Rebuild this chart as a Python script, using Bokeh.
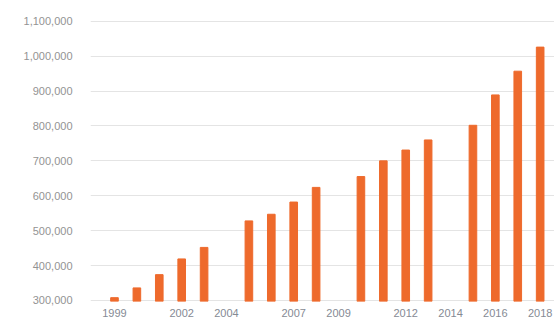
from bokeh.plotting import figure
from bokeh.models import FixedTicker, NumeralTickFormatter, Range1d
from bokeh.embed import file_html
from bokeh.resources import INLINE

# Annual totals (years without a reported figure are left out)
years = [1999, 2000, 2001, 2002, 2003,
         2005, 2006, 2007, 2008,
         2010, 2011, 2012, 2013,
         2015, 2016, 2017, 2018]
totals = [308000, 336000, 374000, 419000, 452000,
          528000, 547000, 582000, 624000,
          655000, 700000, 731000, 760000,
          802000, 889000, 957000, 1026000]

year_ticks = [1999, 2002, 2004, 2007, 2009, 2012, 2014, 2016, 2018]
value_ticks = [300000, 400000, 500000, 600000, 700000, 800000, 900000, 1000000, 1100000]

BAR = "#ee6a2c"
LABEL = "#939393"
FONT = "Liberation Sans"

p = figure(width=554, height=322, output_backend="svg", toolbar_location=None,
           x_range=Range1d(1997.93, 2018.64), y_range=Range1d(297000, 1151000),
           min_border_left=90, min_border_right=0, min_border_top=3, min_border_bottom=21)

p.vbar(x=years, top=totals, bottom=0, width=0.34, color=BAR)

p.outline_line_color = None
p.background_fill_color = "white"
p.border_fill_color = "white"

p.xgrid.grid_line_color = None
p.ygrid.grid_line_color = "#e4e4e4"
p.ygrid.grid_line_width = 1
p.ygrid.ticker = FixedTicker(ticks=value_ticks)

p.yaxis.ticker = FixedTicker(ticks=value_ticks)
p.yaxis.formatter = NumeralTickFormatter(format="0,0")
p.xaxis.ticker = FixedTicker(ticks=year_ticks)

for ax in (p.xaxis, p.yaxis):
    ax.axis_line_color = None
    ax.major_tick_line_color = None
    ax.minor_tick_line_color = None
    ax.major_tick_out = 0
    ax.major_tick_in = 0
    ax.major_label_text_color = LABEL
    ax.major_label_text_font = FONT
    ax.major_label_text_font_size = "11px"

p.yaxis.major_label_standoff = 18
p.yaxis.major_label_text_baseline = "alphabetic"
p.xaxis.major_label_standoff = 7
p.xaxis.major_label_text_color = "#858a94"

open("out.html", "w").write(file_html(p, INLINE))
